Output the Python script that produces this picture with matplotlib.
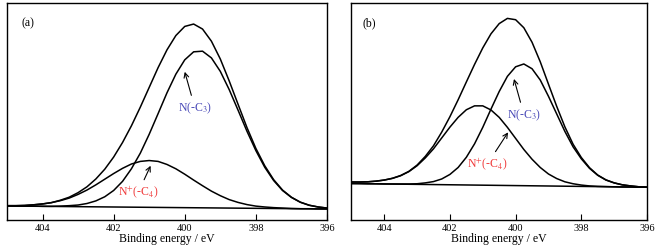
import numpy as np
import matplotlib
matplotlib.use("Agg")
import matplotlib.pyplot as plt

plt.rcParams['font.family'] = ['Liberation Serif', 'DejaVu Serif']
plt.rcParams['mathtext.fontset'] = 'stix'

# binding energy grid (eV), shared by both panels
energy = [405.0, 404.75, 404.5, 404.25, 404.0, 403.75, 403.5, 403.25, 403.0,
          402.75, 402.5, 402.25, 402.0, 401.75, 401.5, 401.25, 401.0, 400.75,
          400.5, 400.25, 400.0, 399.75, 399.5, 399.25, 399.0, 398.75, 398.5,
          398.25, 398.0, 397.75, 397.5, 397.25, 397.0, 396.75, 396.5, 396.25,
          396.0]

# panel (a)
bg_a_x = [405.0, 396.0]
bg_a = [0.0645, 0.0507]
env_a = [0.066, 0.066, 0.067, 0.070, 0.074, 0.080, 0.091, 0.105, 0.126,
         0.153, 0.189, 0.234, 0.290, 0.357, 0.434, 0.520, 0.611, 0.702,
         0.784, 0.850, 0.892, 0.903, 0.880, 0.824, 0.742, 0.641, 0.533,
         0.426, 0.330, 0.250, 0.186, 0.138, 0.105, 0.082, 0.068, 0.060,
         0.055]
nc3_a = [0.065, 0.064, 0.064, 0.064, 0.063, 0.063, 0.064, 0.066, 0.069,
         0.076, 0.088, 0.107, 0.136, 0.178, 0.236, 0.308, 0.395, 0.490,
         0.586, 0.672, 0.738, 0.775, 0.778, 0.747, 0.685, 0.601, 0.506,
         0.409, 0.320, 0.243, 0.182, 0.136, 0.104, 0.082, 0.068, 0.060,
         0.055]
nc4_a = [0.066, 0.066, 0.067, 0.070, 0.074, 0.080, 0.089, 0.101, 0.118,
         0.138, 0.162, 0.188, 0.214, 0.238, 0.258, 0.270, 0.274, 0.270,
         0.256, 0.236, 0.211, 0.184, 0.158, 0.133, 0.112, 0.094, 0.081,
         0.071, 0.064, 0.060, 0.057, 0.055, 0.053, 0.052, 0.052, 0.051,
         0.051]

# panel (b)
bg_b_x = [405.0, 396.0]
bg_b = [0.168, 0.151]
env_b = [0.175, 0.175, 0.176, 0.179, 0.184, 0.192, 0.205, 0.224, 0.253,
         0.293, 0.342, 0.405, 0.476, 0.554, 0.636, 0.717, 0.793, 0.858,
         0.905, 0.929, 0.923, 0.886, 0.819, 0.729, 0.626, 0.524, 0.429,
         0.349, 0.288, 0.241, 0.207, 0.185, 0.171, 0.162, 0.157, 0.153,
         0.151]
nc3_b = [0.168, 0.168, 0.167, 0.167, 0.166, 0.166, 0.166, 0.166, 0.167,
         0.171, 0.177, 0.189, 0.210, 0.242, 0.289, 0.351, 0.427, 0.511,
         0.592, 0.662, 0.706, 0.719, 0.697, 0.645, 0.570, 0.489, 0.408,
         0.337, 0.282, 0.238, 0.206, 0.184, 0.171, 0.162, 0.157, 0.153,
         0.151]
nc4_b = [0.175, 0.175, 0.176, 0.179, 0.184, 0.192, 0.204, 0.223, 0.250,
         0.286, 0.328, 0.378, 0.428, 0.473, 0.508, 0.526, 0.526, 0.507,
         0.473, 0.427, 0.376, 0.325, 0.280, 0.242, 0.212, 0.191, 0.176,
         0.167, 0.161, 0.157, 0.155, 0.154, 0.153, 0.152, 0.152, 0.151,
         0.151]

xticks = [404, 402, 400, 398, 396]
blue = '#4a4ab8'
red = '#f03a3a'

fig = plt.figure(figsize=(6.58, 2.53), dpi=100)
ax_a = fig.add_axes([0.0106, 0.1265, 0.4863, 0.8577])
ax_b = fig.add_axes([0.534, 0.1265, 0.4493, 0.8577])


def style_axis(ax):
    ax.set_xlim(405, 396)
    ax.set_ylim(0, 1)
    ax.set_xticks(xticks)
    ax.set_yticks([])
    ax.tick_params(axis='x', direction='in', length=4, width=0.8,
                   labelsize=7.5, pad=2.5, top=False)
    for s in ax.spines.values():
        s.set_linewidth(1.0)
    ax.set_xlabel('Binding energy / eV', fontsize=8.5, labelpad=0)


def draw_panel(ax, bx, bg, env, nc3, nc4):
    lw = 1.1
    ax.plot(bx, bg, color='k', lw=lw)
    ax.plot(energy, nc4, color='k', lw=lw, solid_joinstyle='round')
    ax.plot(energy, nc3, color='k', lw=lw, solid_joinstyle='round')
    ax.plot(energy, env, color='k', lw=lw, solid_joinstyle='round')


arrow = dict(arrowstyle='->', color='k', lw=0.8, shrinkA=1, shrinkB=0)

# (a)
draw_panel(ax_a, bg_a_x, bg_a, env_a, nc3_a, nc4_a)
style_axis(ax_a)
ax_a.text(0.044, 0.912, '(a)', transform=ax_a.transAxes, fontsize=8.5,
          va='center', ha='left')
ax_a.annotate('N(-C$_3$)', xy=(400.0, 0.683), xytext=(399.72, 0.52),
              color=blue, fontsize=8.5, ha='center', va='center',
              arrowprops=arrow)
ax_a.annotate('N$^{+}$(-C$_4$)', xy=(400.96, 0.25), xytext=(401.3, 0.13),
              color=red, fontsize=8.5, ha='center', va='center',
              arrowprops=arrow)

# (b)
draw_panel(ax_b, bg_b_x, bg_b, env_b, nc3_b, nc4_b)
style_axis(ax_b)
ax_b.text(0.036, 0.912, '(b)', transform=ax_b.transAxes, fontsize=8.5,
          va='center', ha='left')
ax_b.annotate('N(-C$_3$)', xy=(400.05, 0.65), xytext=(399.75, 0.488),
              color=blue, fontsize=8.5, ha='center', va='center',
              arrowprops=arrow)
ax_b.annotate('N$^{+}$(-C$_4$)', xy=(400.23, 0.404), xytext=(400.85, 0.26),
              color=red, fontsize=8.5, ha='center', va='center',
              arrowprops=arrow)

fig.savefig('out.png', dpi=100)
